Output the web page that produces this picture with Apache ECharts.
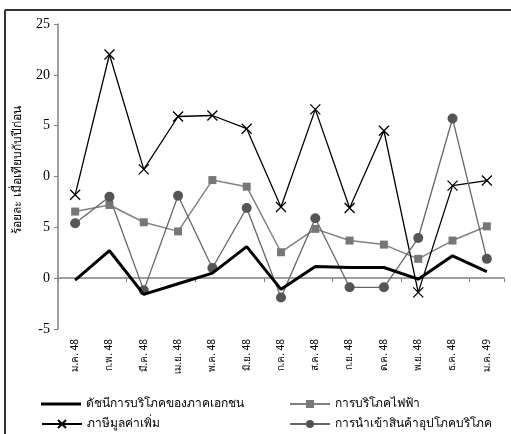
<!DOCTYPE html>
<html>
<head>
<meta charset="utf-8">
<script src="https://cdn.jsdelivr.net/npm/echarts@6/dist/echarts.min.js"></script>
<style>
html,body{margin:0;padding:0;background:#fff;}
#c{width:511px;height:434px;}
</style>
</head>
<body>
<div id="c"></div>
<script>
var categories = ['ม.ค. 48','ก.พ. 48','มี.ค. 48','เม.ย. 48','พ.ค. 48','มิ.ย. 48','ก.ค. 48','ส.ค. 48','ก.ย. 48','ต.ค. 48','พ.ย. 48','ธ.ค. 48','ม.ค. 49'];
var consumptionIndex = [-0.2, 2.7, -1.6, -0.55, 0.5, 3.1, -1.1, 1.15, 1.05, 1.05, -0.1, 2.2, 0.65];
var electricity = [6.55, 7.2, 5.5, 4.6, 9.65, 9.0, 2.55, 4.85, 3.7, 3.3, 1.9, 3.7, 5.1];
var vat = [8.2, 22.0, 10.7, 15.9, 16.0, 14.7, 7.0, 16.6, 6.9, 14.5, -1.4, 9.1, 9.6];
var imports = [5.4, 8.0, -1.2, 8.1, 1.0, 6.9, -1.9, 5.9, -0.9, -0.9, 3.95, 15.7, 1.9];
var yTickLabels = {'25':'25','20':'20','15':'5','10':'0','5':'5','0':'0','-5':'-5'};
var seriesNames = ['ดัชนีการบริโภคของภาคเอกชน','การบริโภคไฟฟ้า','ภาษีมูลค่าเพิ่ม','การนำเข้าสินค้าอุปโภคบริโภค'];
var yAxisTitle = 'ร้อยละ เมื่อเทียบกับปีก่อน';

var chart = echarts.init(document.getElementById('c'), null, {renderer:'canvas'});
var thaiFont = '"Noto Sans", "DejaVu Sans", sans-serif';
var serifFont = '"Liberation Serif", "DejaVu Serif", serif';
var xPath = 'path://M0,0L10,10M10,0L0,10';

function legendFor(idx, left, top, icon, h){
  var l = {data:[icon ? {name:seriesNames[idx], icon:icon} : seriesNames[idx]],
    left:left, top:top, padding:0, itemWidth:40, itemHeight:h || 10, selectedMode:false,
    textStyle:{fontSize:12, color:'#000', fontFamily:thaiFont}};
  return l;
}

chart.setOption({
  animation:false,
  backgroundColor:'#fff',
  grid:{left:58, right:7, top:24, bottom:105},
  xAxis:[
    {type:'category', data:categories, boundaryGap:true,
     axisLine:{show:false, onZero:false}, axisTick:{show:false},
     axisLabel:{rotate:90, margin:10, fontSize:10, color:'#000', fontFamily:thaiFont, interval:0}},
    {type:'category', data:categories, boundaryGap:true, position:'bottom',
     axisLine:{show:true, onZero:true, lineStyle:{color:'#808080', width:1.5}},
     axisTick:{show:true, length:4, lineStyle:{color:'#808080'}},
     axisLabel:{show:false}}
  ],
  yAxis:{type:'value', min:-5, max:25, interval:5,
    axisLine:{show:true, lineStyle:{color:'#808080', width:1.5}},
    axisTick:{show:true, length:4, lineStyle:{color:'#808080'}},
    splitLine:{show:false},
    axisLabel:{margin:8, fontSize:14, color:'#000', fontFamily:serifFont,
      formatter:function(v){return yTickLabels[String(v)];}}
  },
  legend:[
    legendFor(0, 41, 398, 'rect', 3),
    legendFor(2, 41, 418),
    legendFor(1, 289, 398),
    legendFor(3, 289, 418)
  ],
  graphic:[
    {type:'line', shape:{x1:5, y1:10, x2:511, y2:10}, style:{stroke:'#333', lineWidth:2}},
    {type:'line', shape:{x1:5, y1:10, x2:5, y2:434}, style:{stroke:'#333', lineWidth:2}},
    {type:'text', x:18, y:170, rotation:Math.PI/2,
     style:{text:yAxisTitle, fontSize:12, fill:'#000', fontFamily:thaiFont, textAlign:'center', textVerticalAlign:'middle'}}
  ],
  series:[
    {name:seriesNames[0], type:'line', data:consumptionIndex, symbol:'none',
     lineStyle:{color:'#000', width:3}, itemStyle:{color:'#000'}, z:5},
    {name:seriesNames[1], type:'line', data:electricity, symbol:'rect', symbolSize:8,
     lineStyle:{color:'#808080', width:1.5}, itemStyle:{color:'#777'}},
    {name:seriesNames[2], type:'line', data:vat, symbol:xPath, symbolSize:10,
     lineStyle:{color:'#000', width:1.3}, itemStyle:{color:'#000', borderColor:'#000', borderWidth:1.3}},
    {name:seriesNames[3], type:'line', data:imports, symbol:'circle', symbolSize:10,
     lineStyle:{color:'#666', width:1.3}, itemStyle:{color:'#555'}}
  ]
});
</script>
</body>
</html>
